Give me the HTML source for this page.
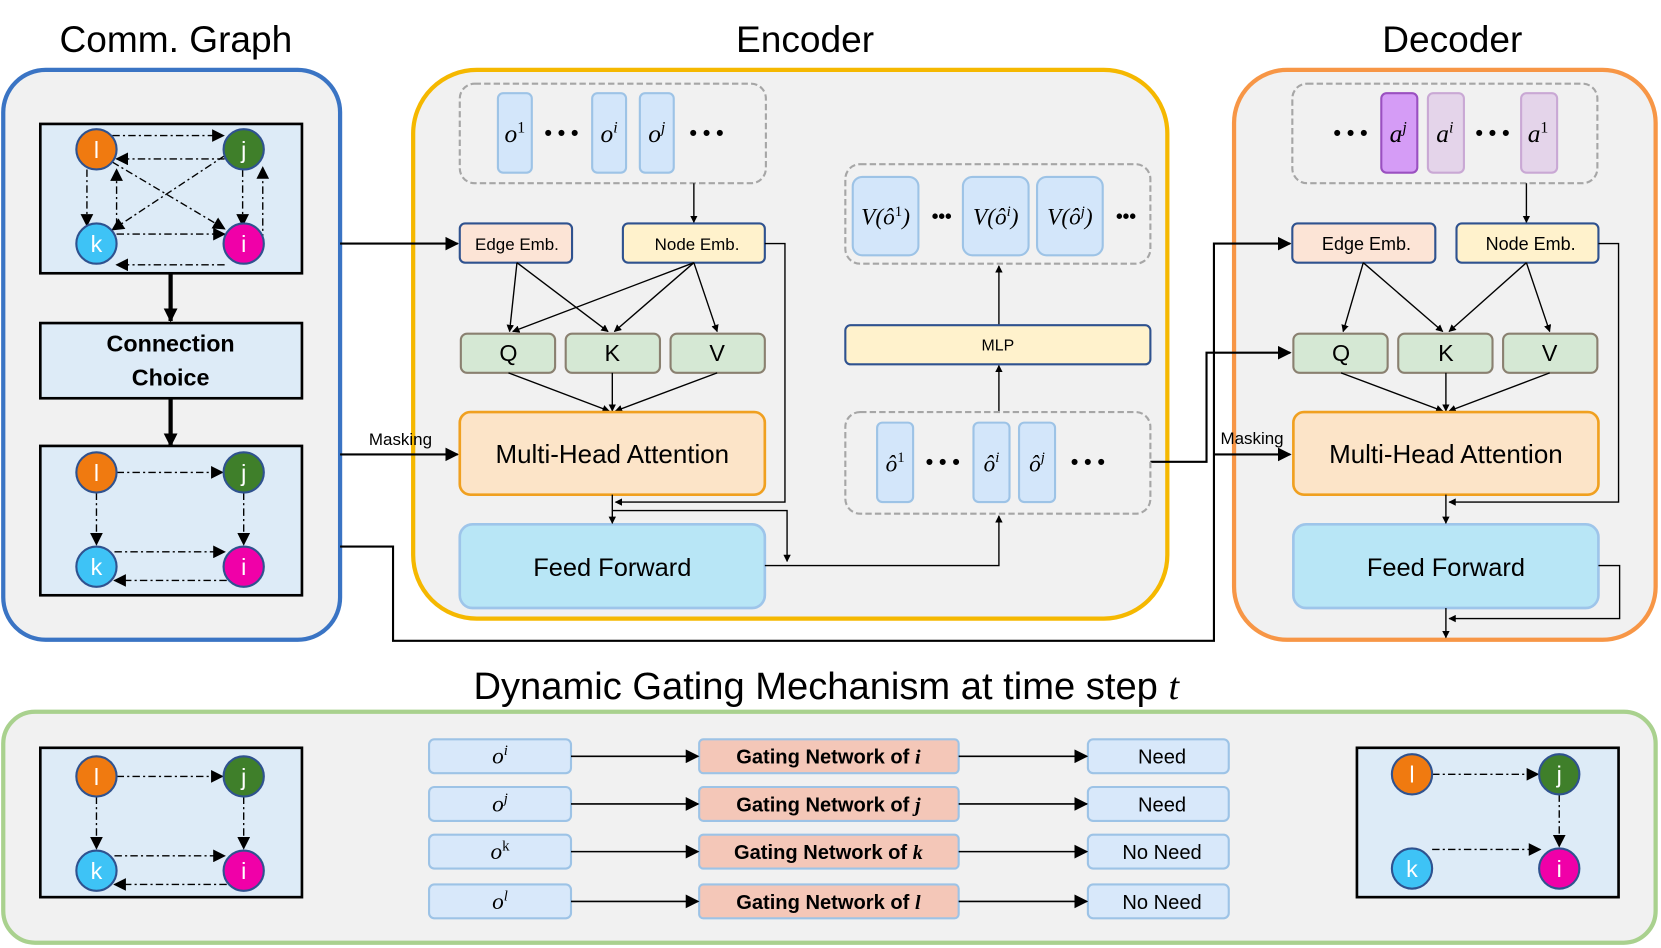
<!DOCTYPE html>
<html><head><meta charset="utf-8"><style>
html,body{margin:0;padding:0;background:#fff;}
svg{display:block;}
text{font-family:"Liberation Sans","DejaVu Sans",sans-serif;}
.m{font-family:"Liberation Serif",serif;font-style:italic;}
</style></head><body>
<svg width="1661" height="948" viewBox="0 0 1568 895" xmlns="http://www.w3.org/2000/svg">
<defs>
<marker id="a" viewBox="0 0 10 10" refX="9" refY="5" markerWidth="7" markerHeight="7" orient="auto-start-reverse" markerUnits="userSpaceOnUse"><path d="M0,0L10,5L0,10z" fill="#000"/></marker>
<marker id="b" viewBox="0 0 10 10" refX="9" refY="5" markerWidth="13" markerHeight="13" orient="auto" markerUnits="userSpaceOnUse"><path d="M0,0L10,5L0,10z" fill="#000"/></marker>
<marker id="c" viewBox="0 0 10 10" refX="9" refY="5" markerWidth="12" markerHeight="12" orient="auto" markerUnits="userSpaceOnUse"><path d="M0,0L10,5L0,10z" fill="#000"/></marker>
</defs>
<rect width="1568" height="895" fill="#fff"/>

<!-- Titles -->
<text x="166" y="49" font-size="35" text-anchor="middle">Comm. Graph</text>
<text x="760" y="49" font-size="35" text-anchor="middle">Encoder</text>
<text x="1371" y="49" font-size="35" text-anchor="middle">Decoder</text>
<text x="780" y="660" font-size="36" text-anchor="middle">Dynamic Gating Mechanism at time step <tspan class="m">t</tspan></text>

<!-- Comm box -->
<rect x="3" y="66" width="318" height="538" rx="40" fill="#f1f1f1" stroke="#3a74c4" stroke-width="4"/>
<!-- Encoder -->
<rect x="390" y="66" width="712" height="518" rx="60" fill="#f1f1f1" stroke="#f5b800" stroke-width="4"/>
<!-- Decoder -->
<rect x="1165" y="66" width="398" height="538" rx="50" fill="#f1f1f1" stroke="#f79646" stroke-width="4"/>
<!-- Bottom -->
<rect x="3" y="672" width="1560" height="218" rx="30" fill="#f1f1f1" stroke="#a9d18e" stroke-width="4"/>

<!-- Graph 1 -->
<rect x="38" y="117" width="247" height="141" fill="#ddebf7" stroke="#000" stroke-width="2.5"/>
<g stroke="#000" stroke-width="1.3" stroke-dasharray="7,3,2,3" fill="none" marker-end="url(#c)">
<line x1="106" y1="128" x2="211" y2="128"/>
<line x1="212" y1="150" x2="110" y2="150"/>
<line x1="82" y1="160" x2="82" y2="213"/>
<line x1="110" y1="213" x2="110" y2="160"/>
<line x1="229" y1="160" x2="229" y2="213"/>
<line x1="248" y1="228" x2="248" y2="158"/>
<line x1="110" y1="221" x2="212" y2="221"/>
<line x1="212" y1="250" x2="110" y2="250"/>
<line x1="106" y1="153" x2="212" y2="216"/>
<line x1="212" y1="147" x2="106" y2="217"/>
</g>
<g stroke="#2f528f" stroke-width="2">
<circle cx="91" cy="141" r="19" fill="#f07a10"/><circle cx="230" cy="141" r="19" fill="#3f7f2a"/>
<circle cx="91" cy="230" r="19" fill="#3ec3f6"/><circle cx="230" cy="230" r="19" fill="#f000a8"/>
</g>
<g font-size="22" fill="#fff" text-anchor="middle">
<text x="91" y="149">l</text><text x="230" y="149">j</text><text x="91" y="238">k</text><text x="230" y="238">i</text>
</g>

<!-- Connection Choice -->
<line x1="161" y1="258" x2="161" y2="303" stroke="#000" stroke-width="4" marker-end="url(#b)"/>
<rect x="38" y="305" width="247" height="71" fill="#ddebf7" stroke="#000" stroke-width="2.5"/>
<text x="161" y="332" font-size="22" font-weight="bold" text-anchor="middle">Connection</text>
<text x="161" y="364" font-size="22" font-weight="bold" text-anchor="middle">Choice</text>
<line x1="161" y1="376" x2="161" y2="421" stroke="#000" stroke-width="4" marker-end="url(#b)"/>

<!-- Graph 2 -->
<rect x="38" y="421" width="247" height="141" fill="#ddebf7" stroke="#000" stroke-width="2.5"/>
<g stroke="#000" stroke-width="1.3" stroke-dasharray="7,3,2,3" fill="none" marker-end="url(#c)">
<line x1="110" y1="446" x2="210" y2="446"/>
<line x1="91" y1="465" x2="91" y2="514"/>
<line x1="230" y1="465" x2="230" y2="514"/>
<line x1="108" y1="521" x2="212" y2="521"/>
<line x1="214" y1="548" x2="108" y2="548"/>
</g>
<g stroke="#2f528f" stroke-width="2">
<circle cx="91" cy="446" r="19" fill="#f07a10"/><circle cx="230" cy="446" r="19" fill="#3f7f2a"/>
<circle cx="91" cy="535" r="19" fill="#3ec3f6"/><circle cx="230" cy="535" r="19" fill="#f000a8"/>
</g>
<g font-size="22" fill="#fff" text-anchor="middle">
<text x="91" y="454">l</text><text x="230" y="454">j</text><text x="91" y="543">k</text><text x="230" y="543">i</text>
</g>

<!-- Cross connectors -->
<g stroke="#000" stroke-width="2" fill="none">
<line x1="321" y1="230" x2="432" y2="230" marker-end="url(#b)"/>
<line x1="321" y1="429" x2="432" y2="429" marker-end="url(#b)"/>
<polyline points="321,516 371,516 371,605 1146,605 1146,230 1218,230" marker-end="url(#b)"/>
<polyline points="1086,436 1139,436 1139,333 1218,333" marker-end="url(#b)"/>
<line x1="1146" y1="429" x2="1218" y2="429" marker-end="url(#b)"/>
</g>
<text x="378" y="420" font-size="16" text-anchor="middle">Masking</text>
<text x="1182" y="419" font-size="16" text-anchor="middle">Masking</text>

<!-- Encoder contents -->
<rect x="434" y="79" width="289" height="94" rx="14" fill="none" stroke="#a6a6a6" stroke-width="2" stroke-dasharray="6,3"/>
<g fill="#d3e6fa" stroke="#9dc3e6" stroke-width="2">
<rect x="470" y="88" width="32" height="75" rx="5"/><rect x="559" y="88" width="32" height="75" rx="5"/><rect x="604" y="88" width="32" height="75" rx="5"/>
</g>
<g font-size="24" text-anchor="middle">
<text x="486" y="134" class="m">o<tspan dy="-9" font-size="15" font-style="normal">1</tspan></text>
<text x="575" y="134" class="m">o<tspan dy="-9" font-size="15">i</tspan></text>
<text x="620" y="134" class="m">o<tspan dy="-9" font-size="15">j</tspan></text>
</g>
<g font-size="20" text-anchor="middle" font-weight="bold">
<text x="530" y="132">• • •</text>
<text x="667" y="132">• • •</text>
</g>
<line x1="655" y1="173" x2="655" y2="210" stroke="#000" stroke-width="1.3" marker-end="url(#a)"/>

<rect x="434" y="211" width="106" height="37" rx="5" fill="#fce4d6" stroke="#2f528f" stroke-width="2"/>
<text x="488" y="236" font-size="16" text-anchor="middle">Edge Emb.</text>
<rect x="588" y="211" width="134" height="37" rx="5" fill="#fff2cc" stroke="#2f528f" stroke-width="2"/>
<text x="658" y="236" font-size="16" text-anchor="middle">Node Emb.</text>

<g fill="#d5e8d4" stroke="#8a8070" stroke-width="2">
<rect x="435" y="315" width="89" height="37" rx="6"/><rect x="534" y="315" width="89" height="37" rx="6"/><rect x="633" y="315" width="89" height="37" rx="6"/>
</g>
<g font-size="22" text-anchor="middle"><text x="480" y="341">Q</text><text x="578" y="341">K</text><text x="677" y="341">V</text></g>

<g stroke="#000" stroke-width="1.3" marker-end="url(#a)">
<line x1="488" y1="248" x2="481" y2="313"/>
<line x1="488" y1="248" x2="574" y2="313"/>
<line x1="655" y1="248" x2="484" y2="313"/>
<line x1="655" y1="248" x2="580" y2="313"/>
<line x1="655" y1="248" x2="677" y2="313"/>
<line x1="480" y1="352" x2="575" y2="388"/>
<line x1="578" y1="352" x2="578" y2="388"/>
<line x1="677" y1="352" x2="581" y2="388"/>
</g>

<rect x="434" y="389" width="288" height="78" rx="10" fill="#fce4c8" stroke="#f0a020" stroke-width="2.5"/>
<text x="578" y="437" font-size="24.5" text-anchor="middle">Multi-Head Attention</text>
<rect x="434" y="495" width="288" height="79" rx="12" fill="#b8e6f6" stroke="#9ec5ea" stroke-width="2.5"/>
<text x="578" y="544" font-size="24" text-anchor="middle">Feed Forward</text>

<g stroke="#000" stroke-width="1.3" fill="none">
<polyline points="722,230 741,230 741,474 581,474" marker-end="url(#a)"/>
<line x1="578" y1="467" x2="578" y2="494" marker-end="url(#a)"/>
<polyline points="578,482 743,482 743,530" marker-end="url(#a)"/>
<polyline points="722,534 943,534 943,487" marker-end="url(#a)"/>
<line x1="943" y1="389" x2="943" y2="345" marker-end="url(#a)"/>
<line x1="943" y1="307" x2="943" y2="251" marker-end="url(#a)"/>
</g>

<rect x="798" y="155" width="288" height="94" rx="14" fill="none" stroke="#a6a6a6" stroke-width="2" stroke-dasharray="6,3"/>
<g fill="#d3e6fa" stroke="#9dc3e6" stroke-width="2">
<rect x="805" y="167" width="62" height="74" rx="9"/><rect x="909" y="167" width="62" height="74" rx="9"/><rect x="979" y="167" width="62" height="74" rx="9"/>
</g>
<g font-size="22" text-anchor="middle">
<text x="836" y="212" class="m">V(ô<tspan dy="-8" font-size="14" font-style="normal">1</tspan><tspan dy="8">)</tspan></text>
<text x="940" y="212" class="m">V(ô<tspan dy="-8" font-size="14">i</tspan><tspan dy="8">)</tspan></text>
<text x="1010" y="212" class="m">V(ô<tspan dy="-8" font-size="14">j</tspan><tspan dy="8">)</tspan></text>
</g>
<g font-size="18" text-anchor="middle" font-weight="bold">
<text x="889" y="210">•••</text>
<text x="1063" y="210">•••</text>
</g>

<rect x="798" y="307" width="288" height="37" rx="5" fill="#fff2cc" stroke="#2f528f" stroke-width="2"/>
<text x="942" y="331" font-size="15" text-anchor="middle">MLP</text>

<rect x="798" y="389" width="288" height="96" rx="14" fill="none" stroke="#a6a6a6" stroke-width="2" stroke-dasharray="6,3"/>
<g fill="#d3e6fa" stroke="#9dc3e6" stroke-width="2">
<rect x="828" y="399" width="34" height="75" rx="5"/><rect x="919" y="399" width="34" height="75" rx="5"/><rect x="962" y="399" width="34" height="75" rx="5"/>
</g>
<g font-size="22" text-anchor="middle">
<text x="845" y="445" class="m">ô<tspan dy="-9" font-size="14" font-style="normal">1</tspan></text>
<text x="936" y="445" class="m">ô<tspan dy="-9" font-size="14">i</tspan></text>
<text x="979" y="445" class="m">ô<tspan dy="-9" font-size="14">j</tspan></text>
</g>
<g font-size="20" text-anchor="middle" font-weight="bold">
<text x="890" y="443">• • •</text>
<text x="1027" y="443">• • •</text>
</g>

<!-- Decoder contents -->
<rect x="1220" y="79" width="288" height="94" rx="14" fill="none" stroke="#a6a6a6" stroke-width="2" stroke-dasharray="6,3"/>
<rect x="1304" y="88" width="34" height="75" rx="5" fill="#d59cf6" stroke="#9a50c0" stroke-width="2"/>
<rect x="1348" y="88" width="34" height="75" rx="5" fill="#e4d4ea" stroke="#c9a8d4" stroke-width="2"/>
<rect x="1436" y="88" width="34" height="75" rx="5" fill="#e4d4ea" stroke="#c9a8d4" stroke-width="2"/>
<g font-size="24" text-anchor="middle">
<text x="1320" y="134" class="m">a<tspan dy="-9" font-size="15">j</tspan></text>
<text x="1364" y="134" class="m">a<tspan dy="-9" font-size="15">i</tspan></text>
<text x="1452" y="134" class="m">a<tspan dy="-9" font-size="15" font-style="normal">1</tspan></text>
</g>
<g font-size="20" text-anchor="middle" font-weight="bold">
<text x="1275" y="132">• • •</text>
<text x="1409" y="132">• • •</text>
</g>
<line x1="1441" y1="173" x2="1441" y2="210" stroke="#000" stroke-width="1.3" marker-end="url(#a)"/>

<rect x="1220" y="211" width="135" height="37" rx="5" fill="#fce4d6" stroke="#2f528f" stroke-width="2"/>
<text x="1290" y="236" font-size="17" text-anchor="middle">Edge Emb.</text>
<rect x="1375" y="211" width="134" height="37" rx="5" fill="#fff2cc" stroke="#2f528f" stroke-width="2"/>
<text x="1445" y="236" font-size="17" text-anchor="middle">Node Emb.</text>

<g fill="#d5e8d4" stroke="#8a8070" stroke-width="2">
<rect x="1221" y="315" width="89" height="37" rx="6"/><rect x="1320" y="315" width="89" height="37" rx="6"/><rect x="1419" y="315" width="89" height="37" rx="6"/>
</g>
<g font-size="22" text-anchor="middle"><text x="1266" y="341">Q</text><text x="1365" y="341">K</text><text x="1463" y="341">V</text></g>

<g stroke="#000" stroke-width="1.3" marker-end="url(#a)">
<line x1="1287" y1="248" x2="1268" y2="313"/>
<line x1="1287" y1="248" x2="1362" y2="313"/>
<line x1="1441" y1="248" x2="1368" y2="313"/>
<line x1="1441" y1="248" x2="1463" y2="313"/>
<line x1="1266" y1="352" x2="1362" y2="388"/>
<line x1="1365" y1="352" x2="1365" y2="388"/>
<line x1="1463" y1="352" x2="1368" y2="388"/>
</g>

<rect x="1221" y="389" width="288" height="78" rx="10" fill="#fce4c8" stroke="#f0a020" stroke-width="2.5"/>
<text x="1365" y="437" font-size="24.5" text-anchor="middle">Multi-Head Attention</text>
<rect x="1221" y="495" width="288" height="79" rx="12" fill="#b8e6f6" stroke="#9ec5ea" stroke-width="2.5"/>
<text x="1365" y="544" font-size="24" text-anchor="middle">Feed Forward</text>

<g stroke="#000" stroke-width="1.3" fill="none">
<polyline points="1509,230 1528,230 1528,474 1368,474" marker-end="url(#a)"/>
<line x1="1365" y1="467" x2="1365" y2="494" marker-end="url(#a)"/>
<polyline points="1509,534 1529,534 1529,584 1368,584" marker-end="url(#a)"/>
<line x1="1365" y1="574" x2="1365" y2="602" marker-end="url(#a)"/>
</g>

<!-- Bottom left graph -->
<rect x="38" y="706" width="247" height="141" fill="#ddebf7" stroke="#000" stroke-width="2.5"/>
<g stroke="#000" stroke-width="1.3" stroke-dasharray="7,3,2,3" fill="none" marker-end="url(#c)">
<line x1="110" y1="733" x2="210" y2="733"/>
<line x1="91" y1="752" x2="91" y2="801"/>
<line x1="230" y1="752" x2="230" y2="801"/>
<line x1="108" y1="808" x2="212" y2="808"/>
<line x1="214" y1="835" x2="108" y2="835"/>
</g>
<g stroke="#2f528f" stroke-width="2">
<circle cx="91" cy="733" r="19" fill="#f07a10"/><circle cx="230" cy="733" r="19" fill="#3f7f2a"/>
<circle cx="91" cy="822" r="19" fill="#3ec3f6"/><circle cx="230" cy="822" r="19" fill="#f000a8"/>
</g>
<g font-size="22" fill="#fff" text-anchor="middle">
<text x="91" y="741">l</text><text x="230" y="741">j</text><text x="91" y="830">k</text><text x="230" y="830">i</text>
</g>

<!-- Bottom right graph -->
<rect x="1281" y="706" width="247" height="141" fill="#ddebf7" stroke="#000" stroke-width="2.5"/>
<g stroke="#000" stroke-width="1.3" stroke-dasharray="7,3,2,3" fill="none" marker-end="url(#c)">
<line x1="1352" y1="731" x2="1452" y2="731"/>
<line x1="1472" y1="750" x2="1472" y2="799"/>
<line x1="1352" y1="802" x2="1454" y2="802"/>
</g>
<g stroke="#2f528f" stroke-width="2">
<circle cx="1333" cy="731" r="19" fill="#f07a10"/><circle cx="1472" cy="731" r="19" fill="#3f7f2a"/>
<circle cx="1333" cy="820" r="19" fill="#3ec3f6"/><circle cx="1472" cy="820" r="19" fill="#f000a8"/>
</g>
<g font-size="22" fill="#fff" text-anchor="middle">
<text x="1333" y="739">l</text><text x="1472" y="739">j</text><text x="1333" y="828">k</text><text x="1472" y="828">i</text>
</g>

<!-- Gating rows -->
<g stroke="#9dc3e6" stroke-width="2">
<rect x="405" y="698" width="134" height="32" rx="5" fill="#d8e8fa"/>
<rect x="405" y="743" width="134" height="32" rx="5" fill="#d8e8fa"/>
<rect x="405" y="788" width="134" height="32" rx="5" fill="#d8e8fa"/>
<rect x="405" y="835" width="134" height="32" rx="5" fill="#d8e8fa"/>
<rect x="660" y="698" width="245" height="32" rx="4" fill="#f4c7b8"/>
<rect x="660" y="743" width="245" height="32" rx="4" fill="#f4c7b8"/>
<rect x="660" y="788" width="245" height="32" rx="4" fill="#f4c7b8"/>
<rect x="660" y="835" width="245" height="32" rx="4" fill="#f4c7b8"/>
<rect x="1027" y="698" width="133" height="32" rx="5" fill="#d8e8fa"/>
<rect x="1027" y="743" width="133" height="32" rx="5" fill="#d8e8fa"/>
<rect x="1027" y="788" width="133" height="32" rx="5" fill="#d8e8fa"/>
<rect x="1027" y="835" width="133" height="32" rx="5" fill="#d8e8fa"/>
</g>
<g stroke="#000" stroke-width="1.5" marker-end="url(#b)">
<line x1="539" y1="714" x2="659" y2="714"/><line x1="905" y1="714" x2="1026" y2="714"/>
<line x1="539" y1="759" x2="659" y2="759"/><line x1="905" y1="759" x2="1026" y2="759"/>
<line x1="539" y1="804" x2="659" y2="804"/><line x1="905" y1="804" x2="1026" y2="804"/>
<line x1="539" y1="851" x2="659" y2="851"/><line x1="905" y1="851" x2="1026" y2="851"/>
</g>
<g font-size="22" text-anchor="middle">
<text x="472" y="721" class="m">o<tspan dy="-8" font-size="14">i</tspan></text>
<text x="472" y="766" class="m">o<tspan dy="-8" font-size="14">j</tspan></text>
<text x="472" y="811" class="m">o<tspan dy="-8" font-size="14" font-style="normal">k</tspan></text>
<text x="472" y="858" class="m">o<tspan dy="-8" font-size="14">l</tspan></text>
</g>
<g font-size="19" font-weight="bold" text-anchor="middle">
<text x="782" y="721">Gating Network of <tspan class="m">i</tspan></text>
<text x="782" y="766">Gating Network of <tspan class="m">j</tspan></text>
<text x="782" y="811">Gating Network of <tspan class="m">k</tspan></text>
<text x="782" y="858">Gating Network of <tspan class="m">l</tspan></text>
</g>
<g font-size="19" text-anchor="middle">
<text x="1097" y="721">Need</text><text x="1097" y="766">Need</text>
<text x="1097" y="811">No Need</text><text x="1097" y="858">No Need</text>
</g>
</svg>
</body></html>
